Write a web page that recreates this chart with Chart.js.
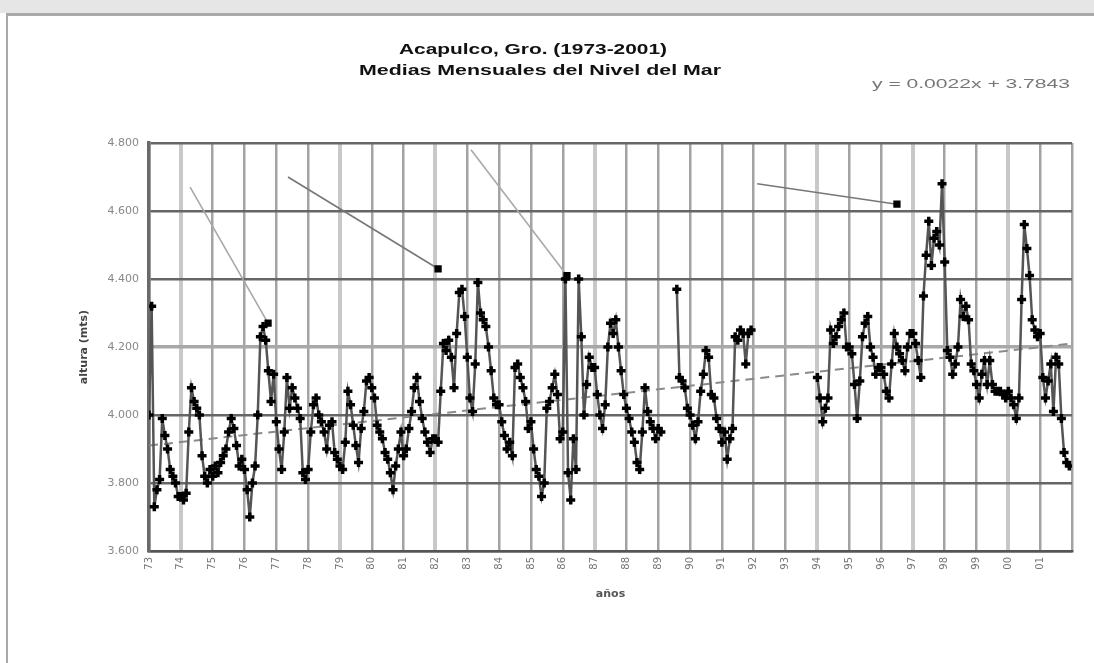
<!DOCTYPE html>
<html>
<head>
<meta charset="utf-8">
<script src="https://cdn.jsdelivr.net/npm/chart.js@4.4.1/dist/chart.umd.min.js"></script>
<style>
  html, body { margin: 0; padding: 0; background: #fff; }
  #band { position: absolute; left: 0; top: 0; width: 1094px; height: 13px; background: #e6e6e6; }
  #frame { position: absolute; left: 6px; top: 13px; width: 1088px; height: 650px;
           border-top: 3px solid #a9a9a9; border-left: 2px solid #a9a9a9; box-sizing: border-box; }
  #wrap { position: absolute; left: 0; top: 0; width: 1094px; height: 663px; }
</style>
</head>
<body>
<div id="band"></div>
<div id="frame"></div>
<div id="wrap"><canvas id="chart"></canvas></div>
<script>
// ---- datos: medias mensuales, Acapulco 1973-2001 (m) ----
const yearLabels = ['73','74','75','76','77','78','79','80','81','82','83','84','85','86','87',
                    '88','89','90','91','92','93','94','95','96','97','98','99','00','01'];
const yTicks = [3.6, 3.8, 4.0, 4.2, 4.4, 4.6, 4.8];

// un renglon por año (ene..dic), null = sin dato
const monthlyLevel = [
  4.00, 4.32, 3.73, 3.78, 3.81, 3.99, 3.94, 3.90, 3.84, 3.82, 3.80, 3.76, // 73
  3.76, 3.75, 3.77, 3.95, 4.08, 4.04, 4.02, 4.00, 3.88, 3.82, 3.80, 3.84, // 74
  3.82, 3.85, 3.83, 3.86, 3.88, 3.90, 3.95, 3.99, 3.96, 3.91, 3.85, 3.87, // 75
  3.84, 3.78, 3.70, 3.80, 3.85, 4.00, 4.23, 4.26, 4.22, 4.13, 4.04, 4.12, // 76
  3.98, 3.90, 3.84, 3.95, 4.11, 4.02, 4.08, 4.05, 4.02, 3.99, 3.83, 3.81, // 77
  3.84, 3.95, 4.03, 4.05, 4.00, 3.98, 3.95, 3.90, 3.97, 3.98, 3.89, 3.87, // 78
  3.85, 3.84, 3.92, 4.07, 4.03, 3.97, 3.91, 3.86, 3.96, 4.01, 4.10, 4.11, // 79
  4.08, 4.05, 3.97, 3.95, 3.93, 3.89, 3.87, 3.83, 3.78, 3.85, 3.90, 3.95, // 80
  3.88, 3.90, 3.96, 4.01, 4.08, 4.11, 4.04, 3.99, 3.95, 3.92, 3.89, 3.93, // 81
  3.93, 3.92, 4.07, 4.21, 4.19, 4.22, 4.17, 4.08, 4.24, 4.36, 4.37, 4.29, // 82
  4.17, 4.05, 4.01, 4.15, 4.39, 4.30, 4.28, 4.26, 4.20, 4.13, 4.05, 4.03, // 83
  4.03, 3.98, 3.94, 3.90, 3.92, 3.88, 4.14, 4.15, 4.11, 4.08, 4.04, 3.96, // 84
  3.98, 3.90, 3.84, 3.82, 3.76, 3.80, 4.02, 4.04, 4.08, 4.12, 4.06, 3.93, // 85
  3.95, 4.40, 3.83, 3.75, 3.93, 3.84, 4.40, 4.23, 4.00, 4.09, 4.17, 4.14, // 86
  4.14, 4.06, 4.00, 3.96, 4.03, 4.20, 4.27, 4.24, 4.28, 4.20, 4.13, 4.06, // 87
  4.02, 3.99, 3.95, 3.92, 3.86, 3.84, 3.95, 4.08, 4.01, 3.98, 3.96, 3.93, // 88
  3.96, 3.95, null, null, null, null, null, 4.37, 4.11, 4.10, 4.08, 4.02, // 89
  4.00, 3.97, 3.93, 3.98, 4.07, 4.12, 4.19, 4.17, 4.06, 4.05, 3.99, 3.96, // 90
  3.92, 3.95, 3.87, 3.93, 3.96, 4.23, 4.22, 4.25, 4.24, 4.15, 4.24, 4.25, // 91
  null, null, null, null, null, null, null, null, null, null, null, null, // 92
  null, null, null, null, null, null, null, null, null, null, null, null, // 93
  4.11, 4.05, 3.98, 4.02, 4.05, 4.25, 4.21, 4.23, 4.26, 4.28, 4.30, 4.20, // 94
  4.20, 4.18, 4.09, 3.99, 4.10, 4.23, 4.27, 4.29, 4.20, 4.17, 4.12, 4.14, // 95
  4.14, 4.12, 4.07, 4.05, 4.15, 4.24, 4.20, 4.18, 4.16, 4.13, 4.20, 4.24, // 96
  4.24, 4.21, 4.16, 4.11, 4.35, 4.47, 4.57, 4.44, 4.52, 4.54, 4.50, 4.68, // 97
  4.45, 4.19, 4.17, 4.12, 4.15, 4.20, 4.34, 4.29, 4.32, 4.28, 4.15, 4.13, // 98
  4.09, 4.05, 4.12, 4.16, 4.09, 4.16, 4.09, 4.07, 4.07, 4.07, 4.06, 4.05, // 99
  4.07, 4.05, 4.03, 3.99, 4.05, 4.34, 4.56, 4.49, 4.41, 4.28, 4.25, 4.23, // 00
  4.24, 4.11, 4.05, 4.10, 4.15, 4.01, 4.17, 4.15, 3.99, 3.89, 3.86, 3.85  // 01
];

// tendencia lineal (extremos)
const trendMonths = [0, 348];
const trendLevel = [3.91, 4.21];

// lineas de señalamiento: [mes inicio, nivel inicio, mes fin, nivel fin]
const pointers = [
  [15.5, 4.67, 44.9, 4.27],
  [52.4, 4.70, 109.0, 4.43],
  [121.4, 4.78, 157.6, 4.41],
  [229.3, 4.68, 282.0, 4.62]
];
const pointerColors = ['#a8a8a8', '#777', '#a8a8a8', '#777'];

// años cuya linea vertical sale mas clara en el original
const lightGridYears = ['74', '79', '82', '87', '94', '97', '00'];

const seriesPoints = monthlyLevel.map((v, i) => ({ x: i, y: v }));
const trendPoints = trendMonths.map((m, i) => ({ x: m, y: trendLevel[i] }));

const pointerSets = pointers.map((p, i) => ({
    type: 'line',
    data: [{ x: p[0], y: p[1] }, { x: p[2], y: p[3] }],
    borderColor: pointerColors[i],
    borderWidth: 1.6,
    pointRadius: [0, 4],
    pointStyle: 'rect',
    pointBackgroundColor: '#000',
    pointBorderColor: '#000',
    fill: false,
    order: 0
}));

// textos del encabezado (el original esta estirado a lo ancho)
function stretchedText(c, text, cx, cy, width) {
    const w = c.measureText(text).width;
    c.save();
    c.translate(cx, cy);
    c.scale(width / w, 1);
    c.fillText(text, 0, 0);
    c.restore();
}

const headerText = {
    id: 'headerText',
    afterDraw(chart) {
        const c = chart.ctx;
        c.save();
        c.fillStyle = '#111';
        c.textAlign = 'center';
        c.textBaseline = 'middle';
        c.font = 'bold 15px "Liberation Sans", Arial, sans-serif';
        stretchedText(c, 'Acapulco, Gro. (1973-2001)', 533, 50, 268);
        stretchedText(c, 'Medias Mensuales del Nivel del Mar', 540, 71, 362);
        c.font = '12px "Liberation Sans", Arial, sans-serif';
        c.fillStyle = '#777';
        stretchedText(c, 'y = 0.0022x + 3.7843', 971, 85, 198);
        c.restore();
    }
};

new Chart(document.getElementById('chart').getContext('2d'), {
    type: 'line',
    data: {
        datasets: [
            {
                data: seriesPoints,
                borderColor: '#555',
                borderWidth: 2.5,
                pointStyle: 'cross',
                pointRadius: 4.5,
                pointBorderWidth: 3.5,
                pointBorderColor: '#000',
                pointBackgroundColor: '#000',
                spanGaps: false,
                order: 1
            },
            {
                data: trendPoints,
                borderColor: '#8a8a8a',
                borderWidth: 2,
                borderDash: [9, 6],
                pointRadius: 0,
                order: 2
            },
            ...pointerSets
        ]
    },
    options: {
        responsive: true,
        maintainAspectRatio: false,
        animation: false,
        layout: { padding: { top: 143, right: 22, left: 0, bottom: 0 } },
        plugins: {
            legend: { display: false },
            tooltip: { enabled: false }
        },
        scales: {
            x: {
                type: 'linear',
                min: 0,
                max: 348,
                afterFit: s => { s.height = 112; },
                afterBuildTicks: s => { s.ticks = yearLabels.map((_, i) => ({ value: i * 12 })).concat([{ value: 348 }]); },
                ticks: {
                    autoSkip: false,
                    minRotation: 90,
                    maxRotation: 90,
                    padding: 6,
                    color: '#777',
                    font: { size: 10, family: 'DejaVu Sans' },
                    callback: v => yearLabels[v / 12] || ''
                },
                grid: {
                    color: c => lightGridYears.includes(yearLabels[c.tick.value / 12]) ? '#c8c8c8' : '#a3a3a3',
                    lineWidth: c => lightGridYears.includes(yearLabels[c.tick.value / 12]) ? 4 : 2.5,
                    drawTicks: false
                },
                border: { color: '#555', width: 2.5 },
                title: {
                    display: true,
                    text: 'años',
                    color: '#555',
                    font: { size: 11, weight: 'bold', family: 'DejaVu Sans' },
                    padding: { top: 0, bottom: 62 }
                }
            },
            y: {
                min: 3.6,
                max: 4.8,
                afterFit: s => { s.width = 149; },
                afterBuildTicks: s => { s.ticks = yTicks.map(v => ({ value: v })); },
                ticks: {
                    color: '#888',
                    padding: 10,
                    font: { size: 11, family: 'DejaVu Sans' },
                    callback: v => v.toFixed(3)
                },
                grid: {
                    color: c => Math.abs(c.tick.value - 4.2) < 1e-6 ? '#a8a8a8' : '#666',
                    lineWidth: c => Math.abs(c.tick.value - 4.2) < 1e-6 ? 3.5 : 2.5,
                    drawTicks: false
                },
                border: { color: '#6a6a6a', width: 3.5 },
                title: {
                    display: true,
                    text: 'altura (mts)',
                    color: '#444',
                    font: { size: 11, weight: 'bold', family: 'DejaVu Sans' },
                    padding: { top: 78, bottom: 0 }
                }
            }
        }
    },
    plugins: [headerText]
});
</script>
</body>
</html>
